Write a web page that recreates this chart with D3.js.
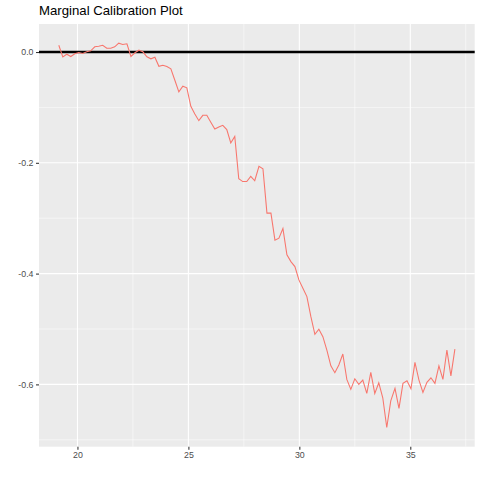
<!DOCTYPE html>
<html>
<head>
<meta charset="utf-8">
<script src="https://cdn.jsdelivr.net/npm/d3@7"></script>
<style>
  body { margin: 0; background: #fff; }
  text { font-family: "Liberation Sans", Arial, sans-serif; }
</style>
</head>
<body>
<svg width="480" height="480"></svg>
<script>
const X_VALUES = [
  19.16, 19.34, 19.52, 19.70, 19.88, 20.06, 20.24, 20.42, 20.60, 20.78,
  20.96, 21.14, 21.32, 21.50, 21.68, 21.86, 22.04, 22.23, 22.41, 22.59,
  22.77, 22.95, 23.13, 23.31, 23.49, 23.67, 23.85, 24.03, 24.21, 24.39,
  24.57, 24.75, 24.93, 25.11, 25.29, 25.47, 25.65, 25.83, 26.01, 26.19,
  26.37, 26.55, 26.73, 26.91, 27.09, 27.27, 27.45, 27.63, 27.81, 27.99,
  28.18, 28.36, 28.54, 28.72, 28.90, 29.08, 29.26, 29.44, 29.62, 29.80,
  29.98, 30.16, 30.34, 30.52, 30.70, 30.88, 31.06, 31.24, 31.42, 31.60,
  31.78, 31.96, 32.14, 32.32, 32.50, 32.68, 32.86, 33.04, 33.22, 33.40,
  33.58, 33.76, 33.94, 34.12, 34.31, 34.49, 34.67, 34.85, 35.03, 35.21,
  35.39, 35.57, 35.75, 35.93, 36.11, 36.29, 36.47, 36.65, 36.83, 37.01
];

const Y_VALUES = [
  0.0123, -0.0087, -0.0040, -0.0081, -0.0033, -0.0009, -0.0027, 0.0004, 0.0022, 0.0094,
  0.0105, 0.0123, 0.0069, 0.0069, 0.0094, 0.0159, 0.0136, 0.0148, -0.0081, -0.0014,
  0.0033, 0.0004, -0.0087, -0.0123, -0.0094, -0.0257, -0.0239, -0.0262, -0.0304, -0.0510,
  -0.0720, -0.0618, -0.0647, -0.0980, -0.1118, -0.1239, -0.1143, -0.1143, -0.1269, -0.1389,
  -0.1353, -0.1324, -0.1401, -0.1642, -0.1523, -0.2288, -0.2339, -0.2339, -0.2246, -0.2324,
  -0.2065, -0.2107, -0.2908, -0.2908, -0.3396, -0.3360, -0.3186, -0.3662, -0.3783, -0.3873,
  -0.4114, -0.4264, -0.4416, -0.4778, -0.5096, -0.5005, -0.5139, -0.5380, -0.5664, -0.5790,
  -0.5651, -0.5452, -0.5910, -0.6090, -0.5899, -0.6000, -0.5922, -0.6163, -0.5783, -0.6163,
  -0.5971, -0.6242, -0.6778, -0.6297, -0.6072, -0.6434, -0.5982, -0.5935, -0.6080, -0.5602,
  -0.5922, -0.6145, -0.5964, -0.5881, -0.5982, -0.5664, -0.5910, -0.5380, -0.5845, -0.5362
];

const X_TICKS = [20, 25, 30, 35];
const X_TICK_LABELS = ["20", "25", "30", "35"];
const X_MINOR = [22.5, 27.5, 32.5, 37.5];
const Y_TICKS = [0, -0.2, -0.4, -0.6];
const Y_TICK_LABELS = ["0.0", "-0.2", "-0.4", "-0.6"];
const Y_MINOR = [-0.1, -0.3, -0.5, -0.7];
const HLINE = 0;
const TITLE = "Marginal Calibration Plot";

const data = X_VALUES.map((x, i) => ({x: x, y: Y_VALUES[i]}));

const panelLeft = 39, panelRight = 474.7, panelTop = 24, panelBottom = 446.7;

// ggplot style 5% expansion
const xExt = d3.extent(X_VALUES);
const xPad = (xExt[1] - xExt[0]) * 0.05;
const yExt = d3.extent(Y_VALUES.concat([HLINE]));
const yPad = (yExt[1] - yExt[0]) * 0.05;

const xScale = d3.scaleLinear()
  .domain([xExt[0] - xPad, xExt[1] + xPad])
  .range([panelLeft, panelRight]);

const yScale = d3.scaleLinear()
  .domain([yExt[0] - yPad, yExt[1] + yPad])
  .range([panelBottom, panelTop]);

const svg = d3.select("svg");

svg.append("rect")
  .attr("x", panelLeft).attr("y", panelTop)
  .attr("width", panelRight - panelLeft).attr("height", panelBottom - panelTop)
  .attr("fill", "#EBEBEB");

const grid = svg.append("g");

grid.selectAll(".xminor").data(X_MINOR).enter().append("line")
  .attr("x1", d => xScale(d)).attr("x2", d => xScale(d))
  .attr("y1", panelTop).attr("y2", panelBottom)
  .attr("stroke", "#fff").attr("stroke-width", 0.53);

grid.selectAll(".yminor").data(Y_MINOR).enter().append("line")
  .attr("x1", panelLeft).attr("x2", panelRight)
  .attr("y1", d => yScale(d)).attr("y2", d => yScale(d))
  .attr("stroke", "#fff").attr("stroke-width", 0.53);

grid.selectAll(".xmajor").data(X_TICKS).enter().append("line")
  .attr("x1", d => xScale(d)).attr("x2", d => xScale(d))
  .attr("y1", panelTop).attr("y2", panelBottom)
  .attr("stroke", "#fff").attr("stroke-width", 1.07);

grid.selectAll(".ymajor").data(Y_TICKS).enter().append("line")
  .attr("x1", panelLeft).attr("x2", panelRight)
  .attr("y1", d => yScale(d)).attr("y2", d => yScale(d))
  .attr("stroke", "#fff").attr("stroke-width", 1.07);

// reference line
svg.append("line")
  .attr("x1", panelLeft).attr("x2", panelRight)
  .attr("y1", yScale(HLINE)).attr("y2", yScale(HLINE))
  .attr("stroke", "#000").attr("stroke-width", 2.5);

const line = d3.line().x(d => xScale(d.x)).y(d => yScale(d.y));

svg.append("path")
  .datum(data)
  .attr("d", line)
  .attr("fill", "none")
  .attr("stroke", "#F8766D")
  .attr("stroke-width", 1.07);

// axes
const xAxis = svg.append("g")
  .attr("transform", `translate(0,${panelBottom})`)
  .call(d3.axisBottom(xScale).tickValues(X_TICKS)
    .tickFormat((d, i) => X_TICK_LABELS[i]).tickSize(3).tickPadding(2.5));

const yAxis = svg.append("g")
  .attr("transform", `translate(${panelLeft},0)`)
  .call(d3.axisLeft(yScale).tickValues(Y_TICKS)
    .tickFormat((d, i) => Y_TICK_LABELS[i]).tickSize(3).tickPadding(2.5));

[xAxis, yAxis].forEach(a => {
  a.select(".domain").remove();
  a.selectAll(".tick line").attr("stroke", "#333333").attr("stroke-width", 1.07);
  a.selectAll(".tick text")
    .attr("fill", "#4D4D4D")
    .style("font-size", "8.8px")
    .style("font-family", "'Liberation Sans', Arial, sans-serif");
});

svg.append("text")
  .attr("x", panelLeft)
  .attr("y", 15)
  .attr("fill", "#000")
  .style("font-size", "13.2px")
  .text(TITLE);
</script>
</body>
</html>
